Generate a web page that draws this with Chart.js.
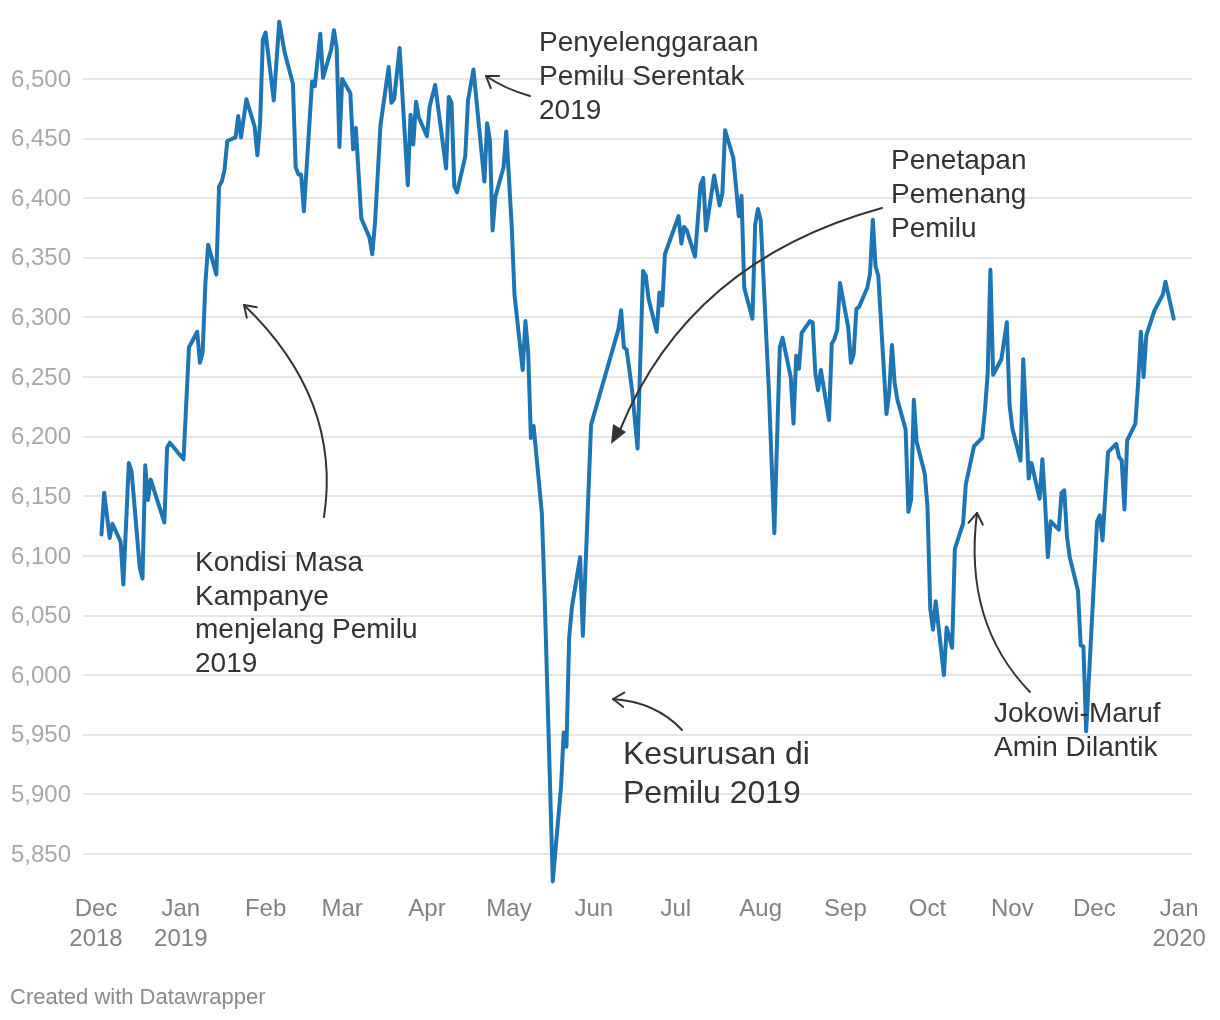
<!DOCTYPE html>
<html lang="id">
<head>
<meta charset="UTF-8">
<title>IHSG 2019</title>
<style>
    html, body { margin: 0; padding: 0; background: #fff; overflow: hidden; }
    canvas { display: block; }
</style>
</head>
<body>
<canvas id="chart" width="1220" height="1020"></canvas>
<script src="https://cdn.jsdelivr.net/npm/chart.js"></script>
<script>
// days since 1 Dec 2018
const days = [2,3,5,6,9,10,12,13,16,17,18,19,20,25,26,27,32,34,37,38,39,40,41,44,45,46,47,48,51,52,53,55,58,59,60,61,62,65,67,69,72,73,74,75,76,79,80,82,83,86,87,88,89,90,93,94,95,97,100,101,102,104,107,108,109,111,114,115,116,117,118,121,122,124,128,129,130,131,132,135,136,138,142,143,144,145,146,149,150,152,153,156,157,158,159,160,163,164,167,170,171,172,173,174,177,178,181,191,192,193,194,196,198,200,201,202,205,206,207,208,213,214,215,216,219,221,222,223,226,228,229,230,233,235,236,237,240,241,242,243,246,248,250,251,254,255,256,257,258,261,262,263,264,265,268,269,270,271,272,275,276,277,278,279,282,283,284,285,286,289,290,291,292,293,296,297,298,299,300,303,304,305,306,307,310,311,313,314,317,318,321,324,325,326,327,328,331,333,334,335,338,339,340,341,342,345,346,347,348,349,352,353,354,355,356,359,360,361,362,366,367,368,370,373,374,375,376,377,380,381,382,383,384,387,390,391,394];
const closes = [6118,6153,6115,6127,6112,6076,6178,6171,6090,6081,6176,6147,6164,6128,6191,6195,6181,6275,6288,6262,6271,6329,6361,6336,6410,6414,6424,6448,6451,6469,6451,6483,6460,6436,6463,6533,6539,6482,6548,6522,6496,6426,6420,6420,6389,6498,6494,6538,6501,6525,6541,6526,6443,6500,6488,6441,6459,6383,6367,6353,6379,6461,6510,6480,6483,6526,6411,6470,6445,6481,6468,6452,6477,6495,6425,6485,6480,6410,6405,6435,6482,6508,6414,6463,6449,6373,6401,6426,6456,6376,6319,6256,6297,6271,6199,6209,6136,6069,5827,5906,5952,5940,6032,6057,6099,6033,6210,6290,6306,6275,6273,6239,6190,6339,6335,6316,6288,6321,6310,6353,6385,6362,6376,6373,6351,6411,6417,6373,6419,6394,6404,6457,6434,6385,6402,6325,6299,6378,6391,6382,6239,6119,6275,6283,6250,6211,6268,6257,6287,6297,6296,6253,6239,6256,6214,6278,6282,6290,6329,6292,6262,6269,6307,6309,6325,6337,6382,6343,6335,6219,6237,6277,6245,6231,6206,6137,6147,6231,6196,6169,6141,6056,6038,6062,6000,6040,6023,6106,6127,6160,6192,6199,6222,6253,6340,6252,6265,6296,6227,6207,6180,6265,6217,6165,6178,6148,6181,6144,6099,6129,6122,6153,6155,6116,6099,6071,6025,6024,5953,6129,6134,6113,6187,6194,6183,6180,6139,6197,6211,6245,6288,6250,6285,6306,6319,6330,6299];

const yTicks = [5850,5900,5950,6000,6050,6100,6150,6200,6250,6300,6350,6400,6450,6500];
const monthDays = [0,31,62,90,121,151,182,212,243,274,304,335,365,396];
const monthLabels = [['Dec','2018'],['Jan','2019'],'Feb','Mar','Apr','May','Jun','Jul','Aug','Sep','Oct','Nov','Dec',['Jan','2020']];

const FONT = '"Liberation Sans", Arial, sans-serif';

// text notes on top of the chart
const notes = [
    { x: 539, y: 51, size: 28, gap: 34, lines: ['Penyelenggaraan', 'Pemilu Serentak', '2019'] },
    { x: 891, y: 169, size: 28, gap: 34, lines: ['Penetapan', 'Pemenang', 'Pemilu'] },
    { x: 195, y: 571, size: 28, gap: 33.5, lines: ['Kondisi Masa', 'Kampanye', 'menjelang Pemilu', '2019'] },
    { x: 623, y: 764, size: 32, gap: 38.5, lines: ['Kesurusan di', 'Pemilu 2019'] },
    { x: 994, y: 722, size: 28, gap: 34, lines: ['Jokowi-Maruf', 'Amin Dilantik'] }
];

// curved arrows: start, control, tip
const arrows = [
    { from: [530, 96], ctrl: [505, 89], to: [486, 76] },
    { from: [324, 517], ctrl: [342, 399], to: [244, 305] },
    { from: [682, 730], ctrl: [656, 702], to: [613, 699] },
    { from: [1030, 692], ctrl: [963, 623], to: [977, 513] }
];
const bigArrow = { from: [882, 208], ctrl: [689, 261], to: [620, 430], tip: [611, 444] };

const notesPlugin = {
    id: 'notes',
    afterDatasetsDraw(chart) {
        const c = chart.ctx;
        c.save();
        c.strokeStyle = '#333';
        c.fillStyle = '#333';
        c.lineWidth = 2;
        c.lineCap = 'round';
        c.lineJoin = 'round';
        arrows.forEach(a => {
            c.beginPath();
            c.moveTo(a.from[0], a.from[1]);
            c.quadraticCurveTo(a.ctrl[0], a.ctrl[1], a.to[0], a.to[1]);
            c.stroke();
            // open head
            const ang = Math.atan2(a.to[1] - a.ctrl[1], a.to[0] - a.ctrl[0]);
            c.beginPath();
            c.moveTo(a.to[0] + 13 * Math.cos(ang + 2.55), a.to[1] + 13 * Math.sin(ang + 2.55));
            c.lineTo(a.to[0], a.to[1]);
            c.lineTo(a.to[0] + 13 * Math.cos(ang - 2.55), a.to[1] + 13 * Math.sin(ang - 2.55));
            c.stroke();
        });
        c.beginPath();
        c.moveTo(bigArrow.from[0], bigArrow.from[1]);
        c.quadraticCurveTo(bigArrow.ctrl[0], bigArrow.ctrl[1], bigArrow.to[0], bigArrow.to[1]);
        c.stroke();
        c.beginPath();
        c.moveTo(bigArrow.tip[0], bigArrow.tip[1]);
        c.lineTo(613, 424);
        c.lineTo(626, 432);
        c.closePath();
        c.fill();

        c.textAlign = 'left';
        c.textBaseline = 'alphabetic';
        notes.forEach(n => {
            c.font = n.size + 'px ' + FONT;
            n.lines.forEach((line, i) => c.fillText(line, n.x, n.y + i * n.gap));
        });
        c.font = '22px ' + FONT;
        c.fillStyle = '#8a8a8a';
        c.fillText('Created with Datawrapper', 10, 1004);
        c.restore();
    }
};

new Chart(document.getElementById('chart').getContext('2d'), {
    type: 'line',
    data: {
        labels: days,
        datasets: [{
            data: days.map((d, i) => ({ x: d, y: closes[i] })),
            borderColor: '#1d76b3',
            borderWidth: 4,
            borderJoinStyle: 'round',
            borderCapStyle: 'round',
            pointRadius: 0,
            tension: 0
        }]
    },
    options: {
        responsive: false,
        animation: false,
        devicePixelRatio: 1,
        layout: { padding: { left: 0, right: 28, top: 15, bottom: 0 } },
        plugins: { legend: { display: false }, tooltip: { enabled: false } },
        scales: {
            x: {
                type: 'linear',
                min: -4.75,
                max: 400.7,
                border: { display: false },
                grid: { display: false, drawTicks: false },
                afterBuildTicks: s => { s.ticks = monthDays.map(v => ({ value: v })); },
                afterFit: s => { s.height = 130; s.paddingLeft = 0; s.paddingRight = 0; },
                ticks: {
                    callback: (v, i) => monthLabels[i],
                    autoSkip: false,
                    maxRotation: 0,
                    padding: 4,
                    color: '#828282',
                    font: { family: FONT, size: 24, lineHeight: 1.25 }
                }
            },
            y: {
                min: 5819.8,
                max: 6553.7,
                border: { display: false },
                grid: { color: '#e6e6e6', lineWidth: 2, drawTicks: false },
                afterBuildTicks: s => { s.ticks = yTicks.map(v => ({ value: v })); },
                // labels must not push the plot area down
                afterFit: s => { s.width = 83; s.paddingTop = 0; s.paddingBottom = 0; },
                ticks: {
                    callback: v => v.toLocaleString('en-US'),
                    autoSkip: false,
                    padding: 12,
                    labelOffset: 1,
                    color: '#a8a8a8',
                    font: { family: FONT, size: 24 }
                }
            }
        }
    },
    plugins: [notesPlugin]
});
</script>
</body>
</html>
